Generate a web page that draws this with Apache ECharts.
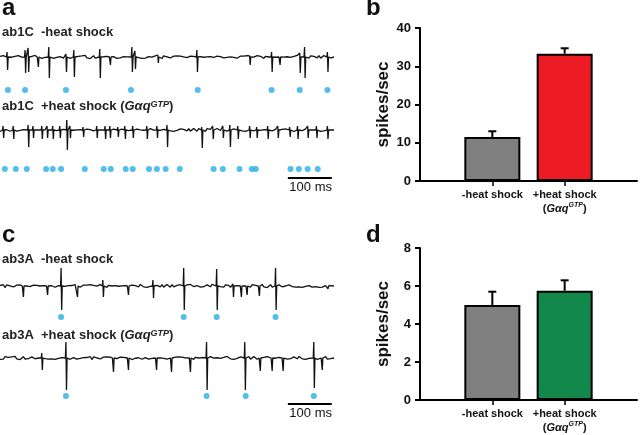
<!DOCTYPE html>
<html>
<head>
<meta charset="utf-8">
<script src="https://cdn.jsdelivr.net/npm/echarts@6/dist/echarts.min.js"></script>
<style>
  html, body { margin: 0; padding: 0; background: #fff; }
  #main { width: 640px; height: 435px; }
</style>
</head>
<body>
<div id="main"></div>
<script>
var myChart = echarts.init(document.getElementById('main'));

// recordings, times in ms; spikes are [time, up, down]
var timeMax = 760;
var noise = [0.8,-1.2,0.5,1.6,-0.4,-1.8,0.9,0.2,-1.1,1.3,-0.6,0.4,1.9,-1.5,0.1,-0.7,1.2,-1.9,0.6,1.0,
  -0.3,-1.4,1.7,0.3,-0.9,0.7,-1.6,1.4,-0.2,0.5,-1.0,1.8,-1.3,0.0,0.9,-0.5,1.5,-1.7,0.4,-0.8,
  1.1,0.6,-1.4,0.2,1.6,-1.1,-0.3,1.3,-1.8,0.8,0.1,-0.6,1.7,-1.2,0.5,-0.1,1.0,-1.5,0.3,1.4,
  -0.9,-0.4,1.2,-1.6,0.7,0.2,-1.3,1.9,-0.7,0.4,-1.0,1.1,-0.2,-1.7,0.9,1.5,-0.5,0.0,-1.2,1.3,
  0.6,-1.9,0.8,-0.3,1.6,-1.1,0.2,1.0,-1.4,0.5,-0.8,1.8,-0.6,0.3,-1.5,1.2,0.7,-1.0,0.4,-0.2];

var ab1cCtrlSpikes = [[16,5,13],[57,7,16],[64,9,15],[86,1,10],[111,10,21],[150,3,15],[168,7,20],
  [227,8,21],[250,2,8],[300,10,15],[307,6,12],[359,2,6],[448,7,15],[568,1,8],[618,5,15],
  [636,1,8],[682,4,16],[693,10,21],[745,5,15]];
var ab1cCtrlDots = [18,57,150,298,450,618,682,745];

var ab1cHsSpikes = [[7,4,8],[30,4,9],[64,5,17],[75,4,8],[95,4,9],[107,4,8],[120,4,9],[136,4,8],
  [152,10,20],[159,4,8],[189,3,7],[220,4,8],[239,4,9],[250,4,8],[268,3,7],[284,4,9],[302,4,8],
  [334,4,9],[357,4,8],[380,5,17],[459,3,18],[484,4,9],[507,4,8],[523,5,17],[541,4,9],[568,4,8],
  [584,3,8],[609,4,9],[632,4,8],[659,3,7],[677,4,9],[700,4,8],[720,4,8],[745,4,9]];
var ab1cHsDots = [11,36,61,105,120,139,193,236,252,286,302,339,357,377,409,486,507,545,573,582,661,680,700,723];

var ab3aCtrlSpikes = [[52,2,11],[107,2,9],[139,18,24],[175,2,11],[234,6,11],[291,2,9],[348,6,12],
  [418,18,24],[493,17,24],[530,2,11],[548,2,11],[561,2,9],[589,2,10],[627,18,24],[745,1,3]];
var ab3aCtrlDots = [139,418,493,627];

var ab3aHsSpikes = [[95,5,12],[150,16,32],[257,2,14],[291,2,12],[355,2,12],[389,2,14],[432,2,14],
  [470,16,32],[557,16,32],[591,2,13],[618,2,13],[643,2,13],[714,16,30],[732,2,12]];
var ab3aHsDots = [150,470,559,714];

var scaleBar = [655, 755]; // 100 ms

// firing rates
var conditions = ['-heat shock', '+heat shock'];
var ab1cRate = [11.5, 33.3];
var ab1cSem = [1.5, 1.4];
var ab3aRate = [5.0, 5.75];
var ab3aSem = [0.7, 0.55];

var FONT = 'Liberation Sans';

function buildTrace(spikes, offset) {
  var pts = [];
  var n = noise.length;
  var step = timeMax / n;
  [0, 1].forEach(function (p) {
    noise.forEach(function (v, i) {
      var t = (i + p * 0.5) * step;
      var near = spikes.some(function (s) { return Math.abs(s[0] - t) < 4; });
      if (!near) pts.push([t, 0.8 * noise[(i * 3 + offset + p * 37) % n]]);
    });
  });
  spikes.forEach(function (s) {
    pts.push([s[0] - 1.2, 0], [s[0], s[1]], [s[0] + 1.3, -s[2]], [s[0] + 2.6, 0]);
  });
  pts.push([timeMax, 0]);
  pts.sort(function (a, b) { return a[0] - b[0]; });
  return pts;
}

// trace grids: baseline y (px) and lower limit
var traces = [
  { spikes: ab1cCtrlSpikes, dots: ab1cCtrlDots, base: 57, low: -40, dotY: -33, off: 0 },
  { spikes: ab1cHsSpikes, dots: ab1cHsDots, base: 130, low: -62, dotY: -39, off: 17, bar: -48 },
  { spikes: ab3aCtrlSpikes, dots: ab3aCtrlDots, base: 286, low: -40, dotY: -31, off: 41 },
  { spikes: ab3aHsSpikes, dots: ab3aHsDots, base: 358, low: -50, dotY: -38, off: 63, bar: -46 }
];

var grid = [], xAxis = [], yAxis = [], series = [];

traces.forEach(function (tr, k) {
  grid.push({ left: 0, width: 334, top: tr.base - 25, height: 25 - tr.low });
  xAxis.push({ gridIndex: k, type: 'value', min: 0, max: timeMax, show: false });
  yAxis.push({ gridIndex: k, type: 'value', min: tr.low, max: 25, show: false });
  series.push({
    type: 'line', xAxisIndex: k, yAxisIndex: k, data: buildTrace(tr.spikes, tr.off),
    showSymbol: false, lineStyle: { color: '#111', width: 1.3 }, silent: true
  });
  series.push({
    type: 'scatter', xAxisIndex: k, yAxisIndex: k, symbolSize: 6,
    itemStyle: { color: '#25aee6' },
    data: tr.dots.map(function (t) { return [t, tr.dotY]; })
  });
  if (tr.bar !== undefined) {
    series.push({
      type: 'line', xAxisIndex: k, yAxisIndex: k, showSymbol: false,
      lineStyle: { color: '#000', width: 2 },
      data: scaleBar.map(function (t) { return [t, tr.bar]; })
    });
  }
});

var richLab = {
  n: { fontFamily: FONT, fontWeight: 'bold', fontSize: 11, color: '#111' },
  i: { fontFamily: FONT, fontWeight: 'bold', fontStyle: 'italic', fontSize: 11, color: '#111' },
  s: { fontFamily: FONT, fontWeight: 'bold', fontStyle: 'italic', fontSize: 7, color: '#111', verticalAlign: 'top' }
};

function barPanel(k, top, bottom, max, interval, rates, sems, colors) {
  grid.push({ left: 420, right: 3, top: top, bottom: bottom });
  xAxis.push({
    gridIndex: k, type: 'value', min: 0, max: 6, splitLine: { show: false },
    axisLine: { lineStyle: { color: '#000', width: 2 } },
    axisTick: { customValues: [2, 4], length: 5, lineStyle: { color: '#000', width: 1.5 } },
    axisLabel: {
      customValues: [2, 4], margin: 7, lineHeight: 14, rich: richLab,
      formatter: function (v) {
        return v === 2 ? '{n|' + conditions[0] + '}'
          : '{n|' + conditions[1] + '}\n{n|(}{i|Gαq}{s|GTP}{n|)}';
      }
    }
  });
  yAxis.push({
    gridIndex: k, type: 'value', min: 0, max: max, interval: interval,
    splitLine: { show: false },
    name: 'spikes/sec', nameLocation: 'middle', nameGap: 28,
    nameTextStyle: { fontFamily: FONT, fontWeight: 'bold', fontSize: 17, color: '#111' },
    axisLine: { show: true, lineStyle: { color: '#000', width: 2 } },
    axisTick: { show: true, length: 5, lineStyle: { color: '#000', width: 2 } },
    axisLabel: { margin: 9, fontFamily: FONT, fontWeight: 'bold', fontSize: 13, color: '#111' }
  });
  series.push({
    type: 'bar', xAxisIndex: k, yAxisIndex: k, barWidth: 56,
    data: rates.map(function (r, i) {
      return { value: [2 + 2 * i, r], itemStyle: { color: colors[i], borderColor: '#000', borderWidth: 2 } };
    })
  });
  series.push({
    type: 'custom', xAxisIndex: k, yAxisIndex: k, z: 5,
    data: rates.map(function (r, i) { return [2 + 2 * i, r, sems[i]]; }),
    renderItem: function (params, api) {
      var base = api.coord([api.value(0), api.value(1)]);
      var tip = api.coord([api.value(0), api.value(1) + api.value(2)]);
      var st = { stroke: '#000', lineWidth: 2 };
      return {
        type: 'group', children: [
          { type: 'line', shape: { x1: base[0], y1: base[1], x2: tip[0], y2: tip[1] }, style: st },
          { type: 'line', shape: { x1: tip[0] - 4, y1: tip[1], x2: tip[0] + 4, y2: tip[1] }, style: st }
        ]
      };
    }
  });
}

barPanel(4, 28, 254, 40, 10, ab1cRate, ab1cSem, ['#808080', '#ed1c24']);
barPanel(5, 248, 34, 8, 2, ab3aRate, ab3aSem, ['#808080', '#12894a']);

var richTitle = {
  n: { fontFamily: FONT, fontWeight: 'bold', fontSize: 13, color: '#222' },
  i: { fontFamily: FONT, fontWeight: 'bold', fontStyle: 'italic', fontSize: 13, color: '#222' },
  s: { fontFamily: FONT, fontWeight: 'bold', fontStyle: 'italic', fontSize: 9, color: '#222', verticalAlign: 'top' }
};

function label(text, x, y, size) {
  return { type: 'text', x: x, y: y, style: { text: text, fontFamily: FONT, fontWeight: 'bold', fontSize: size, fill: '#111' } };
}
function richText(text, x, y) {
  return { type: 'text', x: x, y: y, style: { text: text, rich: richTitle, fill: '#222' } };
}
function msText(x, y) {
  return { type: 'text', x: x, y: y, style: { text: '100 ms', fontFamily: FONT, fontSize: 13, fill: '#111', align: 'right' } };
}

var option = {
  animation: false,
  grid: grid,
  xAxis: xAxis,
  yAxis: yAxis,
  series: series,
  graphic: [
    label('a', 2, -4, 24),
    label('b', 366, -4, 24),
    label('c', 2, 223, 24),
    label('d', 366, 223, 24),
    richText('{n|ab1C  -heat shock}', 2, 26),
    richText('{n|ab1C  +heat shock (}{i|Gαq}{s|GTP}{n|)}', 2, 100),
    richText('{n|ab3A  -heat shock}', 2, 253),
    richText('{n|ab3A  +heat shock (}{i|Gαq}{s|GTP}{n|)}', 2, 329),
    msText(332, 181),
    msText(332, 407)
  ]
};

myChart.setOption(option);
</script>
</body>
</html>
